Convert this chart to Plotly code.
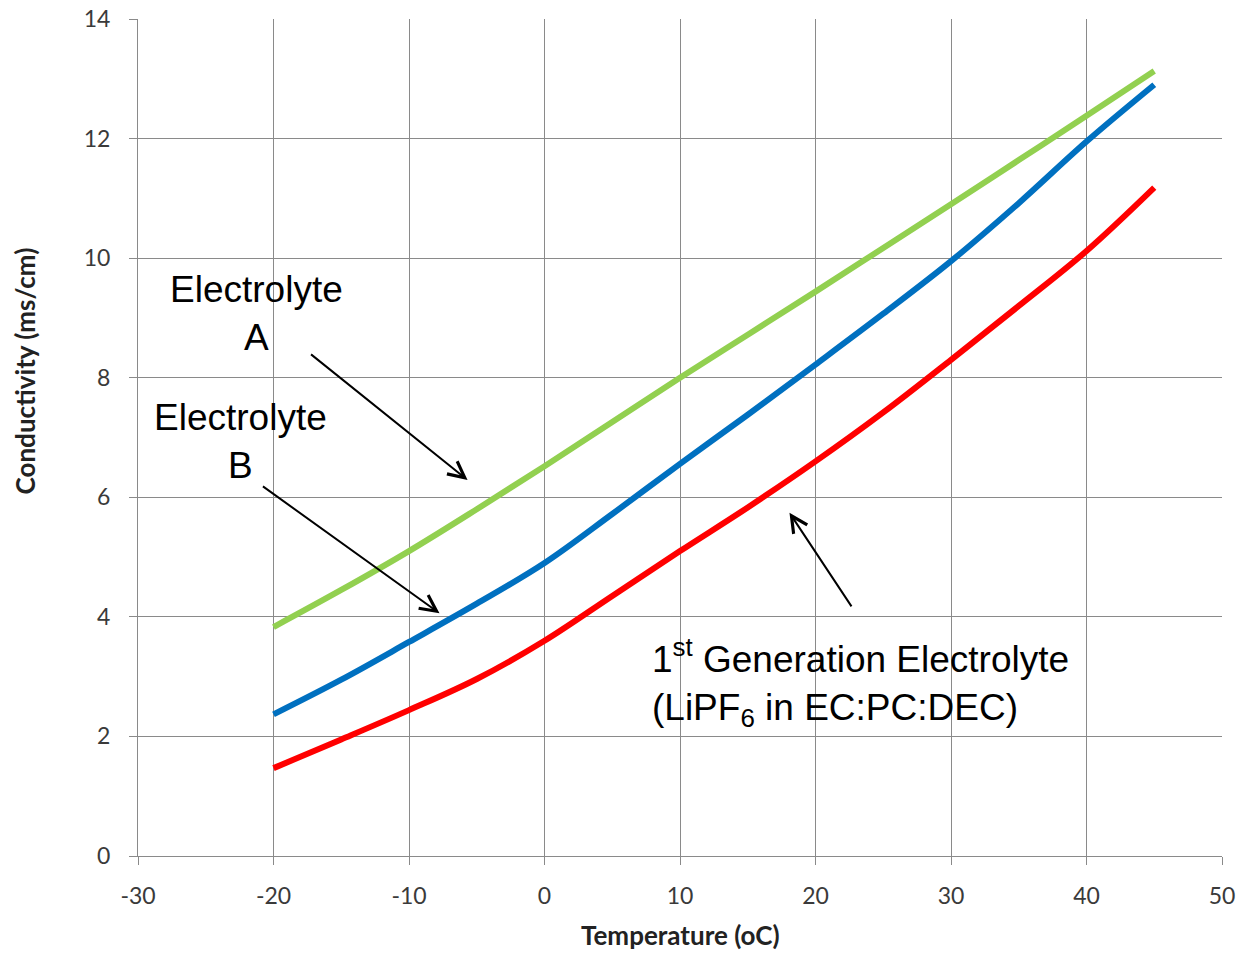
import plotly.graph_objects as go

# temperature (oC)
temperature = [-20, -15, -10, -5, 0, 5, 10, 15, 20, 25, 30, 35, 40, 45]

# conductivity (ms/cm)
electrolyte_a = [3.83, 4.45, 5.1, 5.8, 6.52, 7.26, 8.0, 8.72, 9.44, 10.17, 10.9, 11.64, 12.38, 13.13]
electrolyte_b = [2.37, 2.95, 3.58, 4.22, 4.9, 5.72, 6.56, 7.38, 8.22, 9.07, 9.95, 10.92, 11.95, 12.9]
first_gen = [1.47, 1.95, 2.44, 2.96, 3.6, 4.35, 5.1, 5.83, 6.6, 7.42, 8.3, 9.2, 10.12, 11.18]

x_ticks = [-30, -20, -10, 0, 10, 20, 30, 40, 50]
x_tick_labels = ['-30', '-20', '-10', '0', '10', '20', '30', '40', '50']
y_ticks = [0, 2, 4, 6, 8, 10, 12, 14]
y_tick_labels = ['0', '2', '4', '6', '8', '10', '12', '14']

grid_color = '#8a8a8a'
tick_font = dict(family='Lato, Open Sans, sans-serif', size=23, color='#3a3a3a')
title_font = dict(family='Lato, Open Sans, sans-serif', size=26, color='#222222')
label_font = dict(family='Liberation Sans, Arial, sans-serif', size=37, color='black')

fig = go.Figure()

for name, vals, color in [
    ('Electrolyte A', electrolyte_a, '#92D050'),
    ('Electrolyte B', electrolyte_b, '#0070C0'),
    ('1st Generation Electrolyte', first_gen, '#FF0000'),
]:
    fig.add_trace(go.Scatter(
        x=temperature,
        y=vals,
        mode='lines',
        name=name,
        line=dict(color=color, width=6, shape='spline', smoothing=1.0),
    ))

fig.update_xaxes(
    range=[-30, 50],
    tickvals=x_ticks,
    ticktext=x_tick_labels,
    showgrid=True,
    gridcolor=grid_color,
    gridwidth=1,
    showline=True,
    linecolor=grid_color,
    ticks='outside',
    ticklen=8,
    tickcolor=grid_color,
    tickfont=tick_font,
    ticklabelstandoff=11,
    zeroline=False,
    automargin=False,
)
fig.update_yaxes(
    range=[0, 14],
    tickvals=y_ticks,
    ticktext=y_tick_labels,
    showgrid=True,
    gridcolor=grid_color,
    gridwidth=1,
    showline=True,
    linecolor=grid_color,
    ticks='outside',
    ticklen=8,
    tickcolor=grid_color,
    tickfont=tick_font,
    ticklabelstandoff=14,
    zeroline=False,
    automargin=False,
)

annotations = [
    # axis titles
    dict(x=0.5, y=-0.094, xref='paper', yref='paper', text='<b>Temperature (oC)</b>',
         showarrow=False, font=title_font, xanchor='center', yanchor='middle'),
    dict(x=-0.104, y=8.11, xref='paper', yref='y', text='<b>Conductivity (ms/cm)</b>',
         showarrow=False, font=title_font, textangle=-90, xanchor='center', yanchor='middle'),
    # labels
    dict(x=-21.25, y=9.08, xref='x', yref='y', text='Electrolyte<br>A', showarrow=False,
         font=label_font, align='center', xanchor='center', yanchor='middle'),
    dict(x=-22.44, y=6.94, xref='x', yref='y', text='Electrolyte<br>B', showarrow=False,
         font=label_font, align='center', xanchor='center', yanchor='middle'),
    dict(x=7.75, y=2.91, xref='x', yref='y',
         text='1<sup>st</sup> Generation Electrolyte<br>(LiPF<sub>6</sub> in EC:PC:DEC)',
         showarrow=False, font=label_font, align='left', xanchor='left', yanchor='middle'),
]

# arrows: (tail x, tail y, head x, head y)
arrows = [
    (-17.34, 8.41, -5.68, 6.29),
    (-20.89, 6.20, -7.75, 4.06),
    (22.73, 4.15, 18.08, 5.74),
]
for tx, ty, hx, hy in arrows:
    annotations.append(dict(
        x=hx, y=hy, ax=tx, ay=ty, xref='x', yref='y', axref='x', ayref='y',
        text='', showarrow=True, arrowhead=5, arrowsize=1.6, arrowwidth=2,
        arrowcolor='black', standoff=0,
    ))

fig.update_layout(
    width=1239,
    height=953,
    margin=dict(l=138, r=17, t=19, b=97),
    plot_bgcolor='white',
    paper_bgcolor='white',
    showlegend=False,
    annotations=annotations,
)

# drop the browser's default body margin so the figure fills the window exactly
fig.write_html(
    "out.html",
    config={'displayModeBar': False},
    post_script="document.body.style.margin='0';",
)
